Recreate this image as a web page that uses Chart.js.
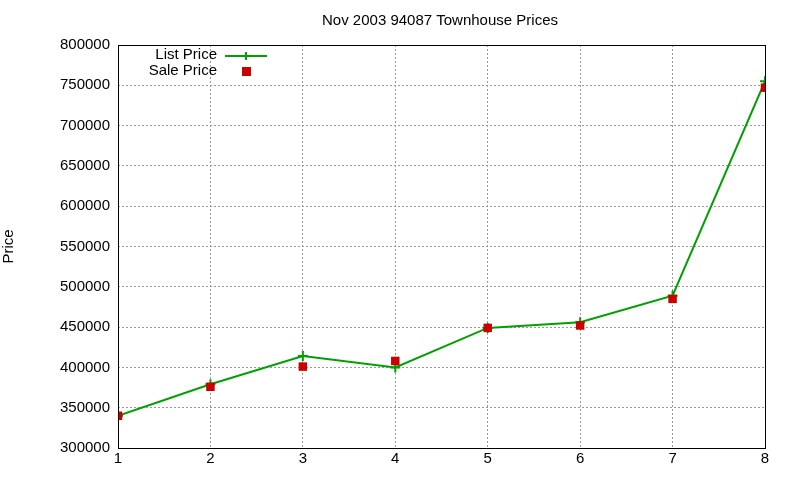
<!DOCTYPE html>
<html><head><meta charset="utf-8">
<script src="https://cdn.jsdelivr.net/npm/chart.js@4/dist/chart.umd.min.js"></script>
<style>body{margin:0;background:#fff}#w{width:800px;height:480px}</style>
</head><body><div id="w"><canvas id="c"></canvas></div>
<script>
const categories = [1, 2, 3, 4, 5, 6, 7, 8];
const listPrice = [340000, 379000, 414000, 400000, 449000, 456000, 489000, 755000];
const salePrice = [340000, 376000, 401000, 408000, 449000, 452000, 485000, 747000];
const chartTitle = 'Nov 2003 94087 Townhouse Prices';
const yTitle = 'Price';
const FONT = "'Liberation Sans', Arial, sans-serif";

const overlay = {
  id: 'overlay',
  afterDraw(chart) {
    const ctx = chart.ctx, a = chart.chartArea;
    ctx.save();
    ctx.strokeStyle = '#000'; ctx.lineWidth = 1;
    ctx.strokeRect(a.left + 0.5, a.top + 0.5, a.right - a.left, a.bottom - a.top);
    ctx.font = '15px ' + FONT; ctx.fillStyle = '#000';
    ctx.textAlign = 'center'; ctx.textBaseline = 'middle';
    ctx.fillText(chartTitle, 440, 21);
    ctx.textAlign = 'right';
    ctx.fillText('List Price', 217, 55);
    ctx.fillText('Sale Price', 217, 71);
    ctx.strokeStyle = '#00a000'; ctx.lineWidth = 2;
    ctx.beginPath(); ctx.moveTo(225, 56); ctx.lineTo(267, 56); ctx.stroke();
    ctx.beginPath(); ctx.moveTo(242, 56); ctx.lineTo(250, 56); ctx.moveTo(246, 52); ctx.lineTo(246, 60); ctx.stroke();
    ctx.fillStyle = '#cc0000'; ctx.fillRect(242, 67, 9, 9);
    ctx.restore();
  }
};

new Chart(document.getElementById('c'), {
  type: 'line',
  data: {
    datasets: [
      { label: 'List Price', order: 1, data: categories.map((x, i) => ({x, y: listPrice[i]})),
        borderColor: '#00a000', backgroundColor: '#00a000', borderWidth: 2,
        pointStyle: 'cross', pointRadius: 5, pointBorderWidth: 2, tension: 0 },
      { label: 'Sale Price', order: 0, data: categories.map((x, i) => ({x, y: salePrice[i]})),
        showLine: false, borderColor: '#cc0000', backgroundColor: '#cc0000',
        pointStyle: 'rect', pointRadius: 6, pointBorderWidth: 0 }
    ]
  },
  options: {
    responsive: true, maintainAspectRatio: false, animation: false,
    layout: { padding: { top: 45, right: 35, left: 0, bottom: 0 } },
    plugins: { legend: { display: false }, title: { display: false }, tooltip: { enabled: false } },
    scales: {
      x: { type: 'linear', min: 1, max: 8,
        afterFit(s) { s.height = 32; },
        ticks: { stepSize: 1, color: '#000', font: { family: FONT, size: 15 }, padding: 2 },
        grid: { color: '#999', drawTicks: false },
        border: { display: false, dash: [2, 2] } },
      y: { min: 300000, max: 800000,
        afterFit(s) { s.width = 118; },
        ticks: { stepSize: 50000, color: '#000', font: { family: FONT, size: 15 }, padding: 8,
          callback: v => String(v) },
        title: { display: true, text: yTitle, color: '#000', font: { family: FONT, size: 15 }, padding: 0 },
        grid: { color: '#999', drawTicks: false },
        border: { display: false, dash: [2, 2] } }
    }
  },
  plugins: [overlay]
});
</script></body></html>
